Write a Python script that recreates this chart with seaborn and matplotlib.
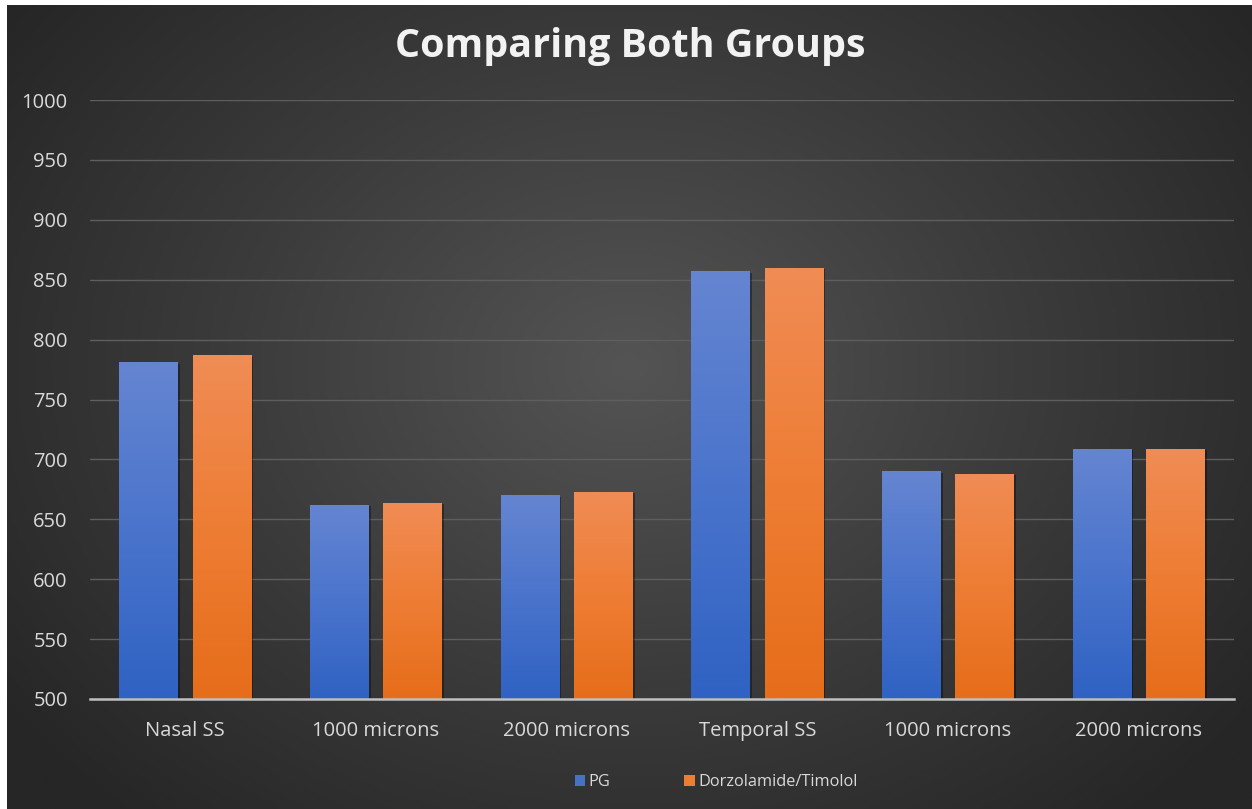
import numpy as np
import pandas as pd
import seaborn as sns
import matplotlib.pyplot as plt
from matplotlib.colors import LinearSegmentedColormap
from matplotlib.patches import Patch
import matplotlib.patheffects as pe

# Measurement sites (unique keys) and the labels shown under them
site_keys = ["Nasal SS", "Nasal 1000", "Nasal 2000",
             "Temporal SS", "Temporal 1000", "Temporal 2000"]
tick_labels = ["Nasal SS", "1000 microns", "2000 microns",
               "Temporal SS", "1000 microns", "2000 microns"]
groups = ["PG", "Dorzolamide/Timolol"]
pg_values = [781, 662, 670, 857, 690, 709]
dt_values = [787, 664, 673, 860, 688, 709]

yticks = list(range(500, 1001, 50))

df = pd.DataFrame({
    "site": site_keys * 2,
    "group": [groups[0]] * len(site_keys) + [groups[1]] * len(site_keys),
    "value": pg_values + dt_values,
})

sns.set_theme(style="dark")
plt.rcParams["font.family"] = ["Open Sans", "DejaVu Sans"]

W, H = 1252, 809
fig = plt.figure(figsize=(W / 100, H / 100), dpi=100)
fig.patch.set_facecolor("white")

# Dark radial-gradient panel behind the chart
bg = fig.add_axes([7 / W, 0, 1 - 7 / W, 1 - 5 / H], zorder=-10)
yy, xx = np.mgrid[0:1:400j, 0:1:600j]
r = np.sqrt(((xx - 0.5) / 0.62) ** 2 + ((yy - 0.55) / 0.75) ** 2)
r = np.clip(r, 0, 1)
bg_cmap = LinearSegmentedColormap.from_list("bg", ["#545454", "#3c3c3c", "#262626"])
bg.imshow(r, cmap=bg_cmap, vmin=0, vmax=1, aspect="auto", origin="lower",
          extent=[0, 1, 0, 1], interpolation="bilinear")
bg.set_axis_off()

ax = fig.add_axes([90 / W, 1 - 699 / H, (1234 - 90) / W, (699 - 100) / H])
ax.set_facecolor("none")

palette = {"PG": "#4472C4", "Dorzolamide/Timolol": "#ED7D31"}
sns.barplot(data=df, x="site", y="value", hue="group", order=site_keys,
            hue_order=groups, palette=palette, width=0.77, gap=0.2,
            linewidth=0, errorbar=None, legend=False, ax=ax, zorder=3)

ax.set_ylim(500, 1000)
ax.set_xlim(-0.5, len(site_keys) - 0.5)
ax.set_yticks(yticks)
ax.set_xticks(range(len(site_keys)))
ax.set_xticklabels(tick_labels)
ax.set_xlabel("")
ax.set_ylabel("")

# Vertical gradient fill on each bar
gradients = {
    "PG": LinearSegmentedColormap.from_list("pg", ["#2f62c3", "#4a74cc", "#6585d1"]),
    "Dorzolamide/Timolol": LinearSegmentedColormap.from_list("dt", ["#e66d1a", "#ee7d34", "#f08c55"]),
}
bars = [p for p in ax.patches if p.get_height() > 0]
grad = np.linspace(0, 1, 256).reshape(-1, 1)
for i, bar in enumerate(bars):
    grp = groups[i // len(site_keys)]
    x0 = bar.get_x()
    x1 = x0 + bar.get_width()
    top = bar.get_y() + bar.get_height()
    bar.set_path_effects([pe.SimplePatchShadow(offset=(1.5, -1), shadow_rgbFace="black", alpha=0.35),
                          pe.Normal()])
    im = ax.imshow(grad, cmap=gradients[grp], aspect="auto", origin="lower",
                   extent=[x0, x1, 500, top], zorder=4, interpolation="bilinear")
    im.set_clip_path(bar)

ax.set_xlim(-0.5, len(site_keys) - 0.5)
ax.set_ylim(500, 1000)

ax.grid(axis="y", color="#5e5e5e", linewidth=1.0, zorder=0)
ax.grid(axis="x", visible=False)
for s in ["top", "right", "left"]:
    ax.spines[s].set_visible(False)
ax.spines["bottom"].set_color("#bfbfbf")
ax.spines["bottom"].set_linewidth(1.8)
ax.spines["bottom"].set_zorder(6)
ax.tick_params(axis="y", length=0, pad=16, labelsize=14.5, labelcolor="#d9d9d9")
ax.tick_params(axis="x", length=0, pad=16, labelsize=14.5, labelcolor="#d9d9d9")

fig.text(0.503, 1 - 47 / H, "Comparing Both Groups", ha="center", va="center",
         fontsize=28.4, fontweight="bold", color="#f2f2f2")

handles = [Patch(facecolor="#4472C4", edgecolor="none", label="PG"),
           Patch(facecolor="#ED7D31", edgecolor="none", label="Dorzolamide/Timolol")]
fig.legend(handles=handles, loc="center", bbox_to_anchor=(0.572, 1 - 782 / H),
           ncol=2, frameon=False, fontsize=11.8, labelcolor="#d9d9d9",
           handlelength=0.65, handleheight=0.65, handletextpad=0.2, columnspacing=4.5)

fig.savefig("out.png", dpi=100, facecolor=fig.get_facecolor())
